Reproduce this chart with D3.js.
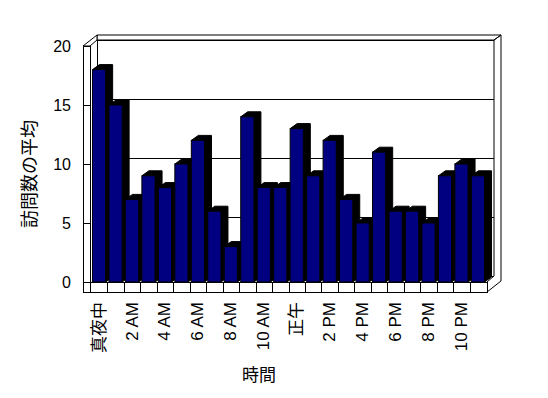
<!DOCTYPE html>
<html>
<head>
<meta charset="utf-8">
<script src="https://cdn.jsdelivr.net/npm/d3@7"></script>
<style>
    body { margin: 0; background: #fff; }
    text { font-family: "Liberation Sans", "Noto Sans CJK JP", sans-serif; fill: #000; }
</style>
</head>
<body>
<div id="chart"></div>
<script>
// data
var hours = ["0", "1", "2", "3", "4", "5", "6", "7", "8", "9", "10", "11",
    "12", "13", "14", "15", "16", "17", "18", "19", "20", "21", "22", "23"];
var visits = [18, 15, 7, 9, 8, 10, 12, 6, 3, 14, 8, 8, 13, 9, 12, 7, 5, 11, 6, 6, 5, 9, 10, 9];
var hourLabels = ["真夜中", "2 AM", "4 AM", "6 AM", "8 AM", "10 AM", "正午", "2 PM", "4 PM", "6 PM", "8 PM", "10 PM"];
var yTicks = [0, 5, 10, 15, 20];

var width = 548, height = 398;

// front plane of the plot area
var x0 = 90, x1 = 487, yBase = 282, yTopFront = 46;
var wallW = 7, floorH = 10;
// depth offsets: plot depth, outer (with wall thickness), bar depth
var pd = { x: 7, y: -6 };
var od = { x: 14, y: -11 };
var bd = { x: 7, y: -5 };

var svg = d3.select("#chart")
    .append("svg")
    .attr("width", width)
    .attr("height", height);

var x = d3.scaleBand()
    .domain(hours)
    .range([x0, x1])
    .paddingInner(0.2)
    .paddingOuter(0.15);

var y = d3.scaleLinear()
    .domain([0, 20])
    .range([yBase, yTopFront]);

var line = function (pts) { return "M" + pts.map(function (p) { return p.join(","); }).join("L"); };
var poly = function (pts) { return line(pts) + "Z"; };

var walls = svg.append("g")
    .attr("fill", "#fff")
    .attr("stroke", "#000")
    .attr("stroke-width", 1)
    .attr("shape-rendering", "crispEdges");

// back wall, front face
walls.append("rect")
    .attr("x", x0 + pd.x + 0.5)
    .attr("y", y(20) + pd.y + 0.5)
    .attr("width", x1 - x0)
    .attr("height", y(0) - y(20));

// gridlines on the back wall
walls.selectAll(".grid")
    .data(yTicks.filter(function (d) { return d > 0 && d < 20; }))
    .enter().append("line")
    .attr("x1", x0 + pd.x)
    .attr("x2", x1 + pd.x)
    .attr("y1", function (d) { return y(d) + pd.y + 0.5; })
    .attr("y2", function (d) { return y(d) + pd.y + 0.5; });

// back wall top and right edges (wall thickness)
walls.append("path")
    .attr("shape-rendering", "auto")
    .attr("d", poly([[x0 + pd.x, y(20) + pd.y], [x0 - wallW + od.x, y(20) + od.y],
        [x1 + od.x, y(20) + od.y], [x1 + pd.x, y(20) + pd.y]]) + " " +
        poly([[x1 + pd.x, y(20) + pd.y], [x1 + od.x, y(20) + od.y],
        [x1 + od.x, yBase + floorH + od.y], [x1, yBase + floorH], [x1, yBase], [x1 + pd.x, yBase + pd.y]]));

// left wall: top and front face
walls.append("path")
    .attr("shape-rendering", "auto")
    .attr("d", poly([[x0 - wallW, y(20)], [x0 - wallW + od.x, y(20) + od.y],
        [x0 + pd.x, y(20) + pd.y], [x0, y(20)]]));
walls.append("rect")
    .attr("x", x0 - wallW + 0.5)
    .attr("y", y(20) + 0.5)
    .attr("width", wallW)
    .attr("height", yBase + floorH - y(20));

// floor front face
walls.append("rect")
    .attr("x", x0 + 0.5)
    .attr("y", yBase + 0.5)
    .attr("width", x1 - x0)
    .attr("height", floorH);

// category ticks across the floor front
walls.selectAll(".xtick")
    .data(hours.slice(1))
    .enter().append("line")
    .attr("x1", function (d) { return Math.round(x(d) - x.step() * x.paddingInner() / 2) + 0.5; })
    .attr("x2", function (d) { return Math.round(x(d) - x.step() * x.paddingInner() / 2) + 0.5; })
    .attr("y1", yBase)
    .attr("y2", yBase + floorH);

// value ticks across the left wall front
walls.selectAll(".ytick")
    .data(yTicks)
    .enter().append("line")
    .attr("x1", x0 - wallW)
    .attr("x2", x0)
    .attr("y1", function (d) { return Math.round(y(d)) + 0.5; })
    .attr("y2", function (d) { return Math.round(y(d)) + 0.5; });

// the bars, left to right so each front covers the previous side
var bars = svg.append("g")
    .selectAll("g")
    .data(visits)
    .enter().append("g");

bars.append("path")
    .attr("fill", "#000")
    .attr("stroke", "#000")
    .attr("d", function (d, i) {
        var bx = x(hours[i]), w = x.bandwidth(), top = y(d);
        return poly([[bx, top], [bx + bd.x, top + bd.y], [bx + w + bd.x, top + bd.y],
            [bx + w + bd.x, yBase + bd.y], [bx + w, yBase], [bx + w, top]]);
    });

bars.append("rect")
    .attr("x", function (d, i) { return x(hours[i]); })
    .attr("y", function (d) { return y(d); })
    .attr("width", x.bandwidth())
    .attr("height", function (d) { return yBase - y(d); })
    .attr("fill", "#000080")
    .attr("stroke", "#000")
    .attr("stroke-width", 1);

// y tick labels
svg.append("g")
    .selectAll("text")
    .data(yTicks)
    .enter().append("text")
    .attr("x", 71)
    .attr("y", function (d) { return y(d); })
    .attr("text-anchor", "end")
    .attr("dominant-baseline", "central")
    .style("font-size", "16px")
    .text(function (d) { return d; });

// x tick labels, every second hour, rotated
svg.append("g")
    .selectAll("text")
    .data(hourLabels)
    .enter().append("text")
    .attr("transform", function (d, i) {
        return "translate(" + (x(hours[i * 2]) + x.bandwidth() / 2) + "," + 302 + ") rotate(-90)";
    })
    .attr("text-anchor", "end")
    .attr("dominant-baseline", "central")
    .style("font-size", "17px")
    .text(function (d) { return d; });

// axis titles
svg.append("text")
    .attr("x", 259)
    .attr("y", 375)
    .attr("text-anchor", "middle")
    .attr("dominant-baseline", "central")
    .style("font-size", "17px")
    .text("時間");

svg.append("text")
    .attr("transform", "translate(30,174) rotate(-90)")
    .attr("text-anchor", "middle")
    .attr("dominant-baseline", "central")
    .style("font-size", "18px")
    .text("訪問数の平均");
</script>
</body>
</html>
